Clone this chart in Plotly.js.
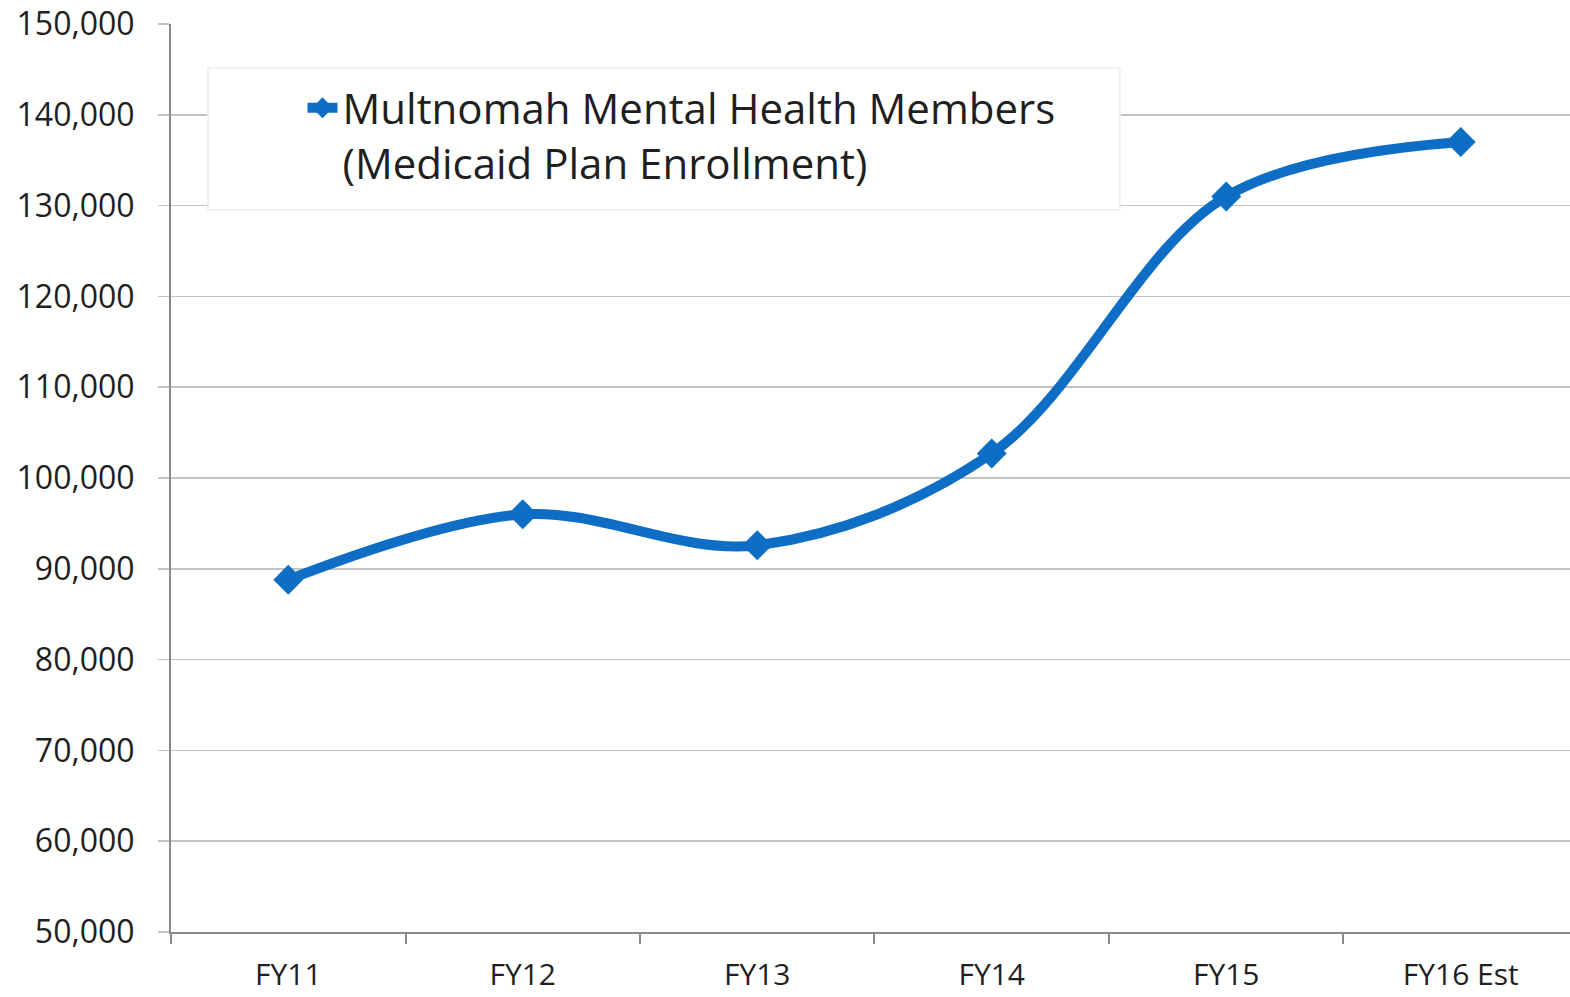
<!DOCTYPE html>
<html>
<head>
<meta charset="utf-8">
<script src="https://cdn.plot.ly/plotly-3.0.1.min.js"></script>
<style>html,body{margin:0;padding:0;background:#fff;}#chart{width:1570px;height:997px;}</style>
</head>
<body>
<div id="chart"></div>
<script>
const categories = ["FY11", "FY12", "FY13", "FY14", "FY15", "FY16 Est"];
const members = [88800, 96000, 92600, 102700, 131000, 137000];
const seriesName = "Multnomah Mental Health Members<br>(Medicaid Plan Enrollment)";

const textColor = "#1f1f1f";
const blue = "#0E6EC6";

const trace = {
  x: categories,
  y: members,
  type: "scatter",
  mode: "lines+markers",
  name: seriesName,
  line: {color: blue, width: 10, shape: "spline", smoothing: 1},
  marker: {symbol: "diamond", size: 23, color: blue}
};

const layout = {
  width: 1570,
  height: 997,
  margin: {l: 171, r: 0, t: 24, b: 65},
  paper_bgcolor: "#ffffff",
  plot_bgcolor: "#ffffff",
  font: {family: "Open Sans, sans-serif", color: textColor, size: 30},
  showlegend: true,
  legend: {
    x: 0.094, y: 0.945, xanchor: "left", yanchor: "top",
    bgcolor: "rgba(0,0,0,0)", borderwidth: 0,
    font: {size: 42, color: textColor, family: "Open Sans, sans-serif"},
    valign: "top"
  },
  xaxis: {
    type: "category",
    range: [-0.5, 5.466],
    showgrid: false,
    showline: true, linecolor: "#8a8a8a", linewidth: 2,
    ticks: "outside", tickson: "boundaries", ticklen: 10, tickcolor: "#8a8a8a", tickwidth: 2,
    ticklabelstandoff: 15,
    tickfont: {size: 30, color: textColor},
    zeroline: false, fixedrange: true
  },
  yaxis: {
    range: [50000, 150000],
    dtick: 10000, tick0: 50000,
    tickformat: ",d",
    showgrid: true, gridcolor: "#c4c4c4", gridwidth: 1.5,
    showline: true, linecolor: "#8a8a8a", linewidth: 2,
    ticks: "outside", ticklen: 11, tickcolor: "#c4c4c4", tickwidth: 1.5,
    ticklabelstandoff: 17,
    tickfont: {size: 32, color: textColor},
    zeroline: false, fixedrange: true
  },
  shapes: [{
    type: "rect", xref: "paper", yref: "paper", layer: "above",
    x0: 0.02645, x1: 0.6783, y0: 0.7952, y1: 0.9515,
    fillcolor: "#ffffff", line: {color: "#ececec", width: 1.5}
  }]
};

Plotly.newPlot("chart", [trace], layout, {displayModeBar: false, staticPlot: true});
</script>
</body>
</html>
